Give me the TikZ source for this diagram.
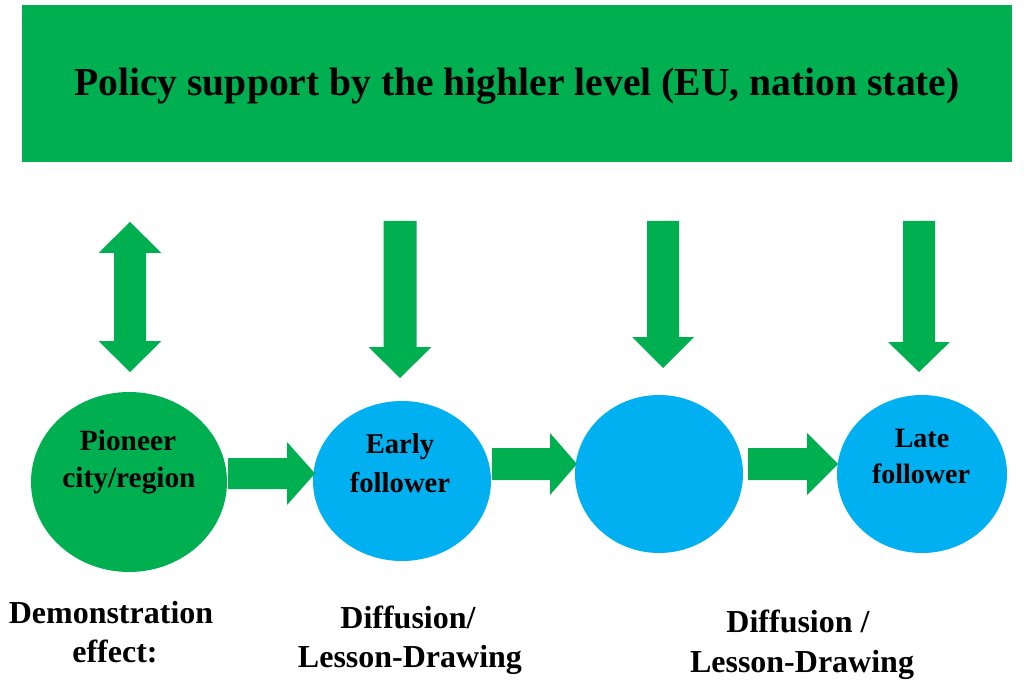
\documentclass[tikz,border=0pt]{standalone}
\usepackage{fontspec}
\setmainfont{Liberation Serif}
\usetikzlibrary{calc,shapes.geometric}
\definecolor{pgreen}{HTML}{00B050}
\definecolor{pblue}{HTML}{00B0F0}
\tikzset{
  blob/.style={ellipse, inner sep=0pt},
  ttl/.style={anchor=base, font=\bfseries\fontsize{29.7}{33}\selectfont},
  clab/.style={anchor=base, font=\bfseries\fontsize{22}{26}\selectfont},
  blab/.style={anchor=base, font=\bfseries\fontsize{24}{28}\selectfont},
}
% right block arrow from #1 to #2: shaft half width #3, head half width #4, head length #5
\newcommand{\rblock}[5]{%
  \fill[pgreen] ($(#1)+(0,-#3)$) -- ($(#2)+(-#5,-#3)$) -- ($(#2)+(-#5,-#4)$) -- (#2)
    -- ($(#2)+(-#5,#4)$) -- ($(#2)+(-#5,#3)$) -- ($(#1)+(0,#3)$) -- cycle;}
% down block arrow from #1 to #2
\newcommand{\dblock}[5]{%
  \fill[pgreen] ($(#1)+(-#3,0)$) -- ($(#2)+(-#3,-#5)$) -- ($(#2)+(-#4,-#5)$) -- (#2)
    -- ($(#2)+(#4,-#5)$) -- ($(#2)+(#3,-#5)$) -- ($(#1)+(#3,0)$) -- cycle;}
\begin{document}
\begin{tikzpicture}[x=0.75pt,y=-0.75pt]
\useasboundingbox (0,0) rectangle (1024,684);
\fill[white] (0,0) rectangle (1024,684);
% top box
\fill[pgreen] (22,5) rectangle (1012,162);
\node[ttl] (title) at (517,96) {Policy support by the highler level (EU, nation state)};
% ellipses
\node[blob, fill=pgreen, minimum width=196*0.75pt, minimum height=180*0.75pt] (pio) at (129,482) {};
\node[blob, fill=pblue, minimum width=178*0.75pt, minimum height=160*0.75pt] (early) at (402,481) {};
\node[blob, fill=pblue, minimum width=168*0.75pt, minimum height=158*0.75pt] (mid) at (659,474) {};
\node[blob, fill=pblue, minimum width=170*0.75pt, minimum height=158*0.75pt] (late) at (922,474) {};
% labels in ellipses
\node[clab] (pio1) at (128,450) {Pioneer};
\node[clab] (pio2) at (129,487) {city/region};
\node[clab, font=\bfseries\fontsize{21.5}{25}\selectfont] (ear1) at (400,453) {Early};
\node[clab, font=\bfseries\fontsize{21.5}{25}\selectfont] (ear2) at (400,492) {follower};
\node[clab, font=\bfseries\fontsize{21}{25}\selectfont] (lat1) at (922,447) {Late};
\node[clab, font=\bfseries\fontsize{21}{25}\selectfont] (lat2) at (921,483) {follower};
% horizontal arrows
\coordinate (h1s) at (228,473.5); \coordinate (h1e) at (315,473.5);
\coordinate (h2s) at (492,464); \coordinate (h2e) at (577,464);
\coordinate (h3s) at (748,464); \coordinate (h3e) at (838,464);
\rblock{h1s}{h1e}{15.5}{31.5}{28}
\rblock{h2s}{h2e}{16}{31}{27}
\rblock{h3s}{h3e}{16}{31}{31}
% down arrows
\coordinate (d1s) at (400,221); \coordinate (d1e) at (400,378);
\coordinate (d2s) at (663,221); \coordinate (d2e) at (663,368);
\coordinate (d3s) at (919,221); \coordinate (d3e) at (919,372);
\dblock{d1s}{d1e}{16.5}{31.5}{31}
\dblock{d2s}{d2e}{16}{31}{31}
\dblock{d3s}{d3e}{16}{31}{30}
% double arrow
\coordinate (uu) at (130,222); \coordinate (ud) at (130,372);
\fill[pgreen] (uu) -- ($(uu)+(31.5,31)$) -- ($(uu)+(16,31)$) -- ($(ud)+(16,-31)$) -- ($(ud)+(31.5,-31)$) -- (ud)
  -- ($(ud)+(-31.5,-31)$) -- ($(ud)+(-16,-31)$) -- ($(uu)+(-16,31)$) -- ($(uu)+(-31.5,31)$) -- cycle;
% bottom labels
\node[blab] (dem1) at (111,623) {Demonstration};
\node[blab] (dem2) at (115,662) {effect:};
\node[blab] (dif1) at (408,628) {Diffusion/};
\node[blab] (dif2) at (410,667) {Lesson-Drawing};
\node[blab] (dif3) at (798,632) {Diffusion /};
\node[blab] (dif4) at (802,672) {Lesson-Drawing};
\end{tikzpicture}
\end{document}
